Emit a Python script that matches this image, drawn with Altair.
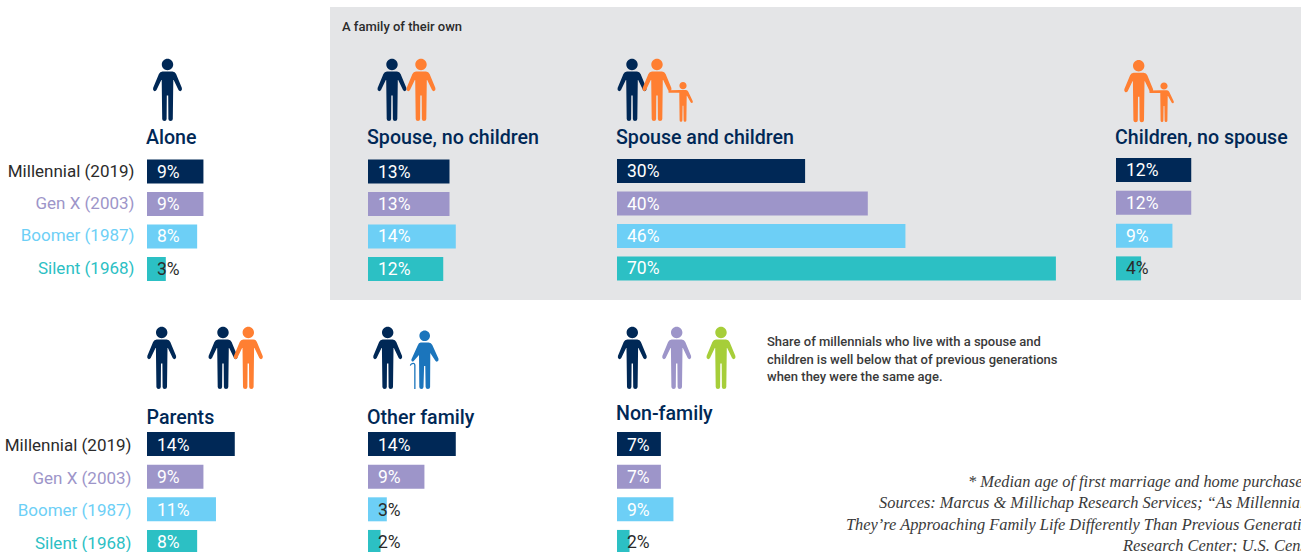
import altair as alt
import pandas as pd

NAVY = "#002856"
PURPLE = "#9D95C9"
SKY = "#6DCFF6"
TEAL = "#2CC0C4"
ORANGE = "#FF7F32"
GREEN = "#A6CE39"
ELDER = "#1B75BC"
PANEL_BG = "#E4E5E7"
INK = "#2B2B2B"
SANS = "Roboto"

generations = ["Millennial (2019)", "Gen X (2003)", "Boomer (1987)", "Silent (1968)"]
generation_colors = [NAVY, PURPLE, SKY, TEAL]
label_colors = [INK, PURPLE, SKY, TEAL]

alone = [9, 9, 8, 3]
spouse_no_children = [13, 13, 14, 12]
spouse_and_children = [30, 40, 46, 70]
children_no_spouse = [12, 12, 9, 4]
parents = [14, 9, 11, 8]
other_family = [14, 9, 3, 2]
non_family = [7, 7, 9, 2]

footnote_lines = [
    "* Median age of first marriage and home purchase",
    "Sources: Marcus & Millichap Research Services; \u201cAs Millennials",
    "They\u2019re Approaching Family Life Differently Than Previous Generations",
    "Research Center; U.S. Census",
]
note_lines = [
    "Share of millennials who live with a spouse and",
    "children is well below that of previous generations",
    "when they were the same age.",
]

# Pixels per percentage point on every panel's x scale.
PX_PER_PCT = 6.27
TOP_ROWS = (159.5, 281)
BOTTOM_ROWS = (432, 554)

# values, left edge of the panel, vertical band of its four rows, label nudge
panels = [
    (alone, 147, TOP_ROWS, 1),
    (spouse_no_children, 368, TOP_ROWS, 1),
    (spouse_and_children, 617, (159, 280.5), 1),
    (children_no_spouse, 1116, (158, 280.5), 1),
    (parents, 147, BOTTOM_ROWS, 1.5),
    (other_family, 368, BOTTOM_ROWS, 1.5),
    (non_family, 617, BOTTOM_ROWS, 1.5),
]


def row_scale(rows):
    return alt.Scale(type="band", domain=generations, range=list(rows),
                     paddingInner=0.26, paddingOuter=0)


def panel_layers(values, left, rows, nudge):
    table = pd.DataFrame({
        "generation": generations,
        "share": values,
        "label": [f"{v}%" for v in values],
        "ink": ["dark" if v < 5 else "light" for v in values],
    })
    share_scale = alt.Scale(domain=[0, 100], range=[left, left + 100 * PX_PER_PCT])
    y = alt.Y("generation:N", axis=None, sort=generations, scale=row_scale(rows))
    bars = alt.Chart(table).mark_bar(size=24).encode(
        x=alt.X("share:Q", axis=None, scale=share_scale), x2=alt.datum(0), y=y,
        color=alt.Color("generation:N", legend=None,
                        scale=alt.Scale(domain=generations, range=generation_colors)),
    )
    labels = alt.Chart(table).mark_text(
        align="left", baseline="middle", dx=10, dy=nudge, fontSize=17.5, font=SANS, fontWeight=400,
    ).encode(
        x=alt.datum(0, scale=share_scale, axis=None),
        y=y,
        text="label:N",
        color=alt.Color("ink:N", legend=None,
                        scale=alt.Scale(domain=["dark", "light"], range=[INK, "#FFFFFF"])),
    )
    return [bars, labels]


def row_labels(right, rows, nudge):
    table = pd.DataFrame({"generation": generations})
    return alt.Chart(table).mark_text(
        align="right", baseline="middle", dy=nudge, fontSize=17, font=SANS, fontWeight=400,
    ).encode(
        x=alt.value(right),
        y=alt.Y("generation:N", axis=None, sort=generations, scale=row_scale(rows)),
        text="generation:N",
        color=alt.Color("generation:N", legend=None,
                        scale=alt.Scale(domain=generations, range=label_colors)),
    )


def text_at(text, x, y, **style):
    style.setdefault("align", "left")
    style.setdefault("baseline", "alphabetic")
    style.setdefault("font", SANS)
    return alt.Chart(pd.DataFrame({"t": [text]})).mark_text(**style).encode(
        x=alt.value(x), y=alt.value(y), text="t:N"
    )


# Pictogram outlines, drawn around the figure's centre; a symbol size of 4 keeps them 1:1.
ADULT = (
    "M5.7,-25.5A5.7,5.7 0 1 1 -5.7,-25.5A5.7,5.7 0 1 1 5.7,-25.5Z"
    "M-5,-18.5L5,-18.5Q7.6,-18.5 8.6,-16L14.4,-2Q14.9,0.5 13.2,1.1Q11.8,1.4 11,0L6.2,-10"
    "L5.8,-10L5.3,29Q5.2,31 3,31Q1,31 0.9,29L0.7,5.5L-0.7,5.5L-0.9,29Q-1,31 -3,31Q-5.2,31 -5.3,29"
    "L-5.8,-10L-6.2,-10L-11,0Q-11.8,1.4 -13.2,1.1Q-14.9,0.5 -14.4,-2L-8.6,-16Q-7.6,-18.5 -5,-18.5Z"
)
CHILD = (
    "M3.6,-5A3.6,3.6 0 1 1 -3.6,-5A3.6,3.6 0 1 1 3.6,-5Z"
    "M-3,-0.7L3,-0.7Q4.5,-0.7 5.3,1L9.8,10.5Q10.1,12 9,12.3Q8.2,12.5 7.6,11.5L4,5L3.7,5"
    "L3.4,29.5Q3.4,31 2,31Q0.6,31 0.6,29.5L0.4,15L-0.4,15L-0.6,29.5Q-0.6,31 -2,31Q-3.4,31 -3.4,29.5"
    "L-3.7,5L-3.7,2L-14.5,2L-14.5,-0.4Z"
)
ELDER_ADULT = (
    "M5.3,-22.3A5.3,5.3 0 1 1 -5.3,-22.3A5.3,5.3 0 1 1 5.3,-22.3Z"
    "M-4,-15.5L4,-15.5Q6.5,-15.5 7.6,-13L13.8,0.8Q14.3,3 12.6,3.6Q11.2,3.9 10.5,2.6L5.6,-5"
    "L5.4,29Q5.3,31 3.2,31Q1,31 0.9,29L0.6,8L-0.6,8L-1.2,29Q-1.3,31 -3.2,31Q-5.3,31 -5.4,29"
    "L-5.7,-3L-11,3Q-12.2,4 -13,3Q-13.8,2 -13,0.8L-7,-12.5Q-6,-15.5 -4,-15.5Z"
    "M-14.9,7.5Q-14.2,4.8 -11.2,4.8Q-9.2,5 -9.2,7L-9.2,31L-10.5,31L-10.5,7.2Q-10.5,6 -11.5,6"
    "Q-13.4,6 -13.9,7.7Z"
)

TOP_FIGURE_Y = 90
BOTTOM_FIGURE_Y = 358

figures = [
    (ADULT, NAVY, 167.5, TOP_FIGURE_Y),
    (ADULT, NAVY, 392, TOP_FIGURE_Y),
    (ADULT, ORANGE, 421, TOP_FIGURE_Y),
    (ADULT, NAVY, 632, TOP_FIGURE_Y),
    (ADULT, ORANGE, 657, TOP_FIGURE_Y),
    (CHILD, ORANGE, 683, TOP_FIGURE_Y + 0.7),
    (ADULT, ORANGE, 1138.7, TOP_FIGURE_Y + 1.2),
    (CHILD, ORANGE, 1164, TOP_FIGURE_Y + 1),
    (ADULT, NAVY, 161.7, BOTTOM_FIGURE_Y),
    (ADULT, NAVY, 223, BOTTOM_FIGURE_Y),
    (ADULT, ORANGE, 248.3, BOTTOM_FIGURE_Y),
    (ADULT, NAVY, 387.7, BOTTOM_FIGURE_Y),
    (ELDER_ADULT, ELDER, 424.7, BOTTOM_FIGURE_Y),
    (ADULT, NAVY, 632.3, BOTTOM_FIGURE_Y),
    (ADULT, PURPLE, 676.7, BOTTOM_FIGURE_Y),
    (ADULT, GREEN, 721, BOTTOM_FIGURE_Y),
]

placeholder = alt.Chart(pd.DataFrame({"k": [0]}))

layers = [
    placeholder.mark_rect(color=PANEL_BG).encode(
        x=alt.value(330), x2=alt.value(1301), y=alt.value(7), y2=alt.value(300)
    ),
    text_at("A family of their own", 342, 31, fontSize=13, fontWeight=500, color=INK),
]

for outline, color, fx, fy in figures:
    layers.append(
        placeholder.mark_point(shape=outline, filled=True, opacity=1, size=4,
                               color=color, strokeWidth=0).encode(
            x=alt.value(fx), y=alt.value(fy)
        )
    )

headers = [
    ("Alone", 146, 144),
    ("Spouse, no children", 367, 144),
    ("Spouse and children", 616, 144),
    ("Children, no spouse", 1115, 144),
    ("Parents", 146.5, 424),
    ("Other family", 367, 424),
    ("Non-family", 616, 420),
]
for title, hx, hy in headers:
    layers.append(text_at(title, hx, hy, fontSize=19.6, fontWeight=500, color=NAVY))

for values, left, rows, nudge in panels:
    layers.extend(panel_layers(values, left, rows, nudge))

layers.append(row_labels(134.5, TOP_ROWS, 0))
layers.append(row_labels(131.5, BOTTOM_ROWS, 2))

for line, ny in zip(note_lines, [346, 363.5, 381]):
    layers.append(text_at(line, 767, ny, fontSize=13, fontWeight=500, color="#3A3A3A"))

for line, fx, fy in zip(footnote_lines, [968, 879, 846, 1123], [487, 508, 530, 551]):
    layers.append(text_at(line, fx, fy, fontSize=16.4, fontStyle="italic",
                          font="Liberation Serif", color="#3A3A3A"))

chart = (
    alt.layer(*layers)
    .resolve_scale(x="independent", y="independent", color="independent")
    .properties(width=1301, height=552, padding=0, autosize=alt.AutoSizeParams(type="none"))
    .configure_view(stroke=None)
)

chart.save("out.html", embed_options={"renderer": "svg", "actions": False})
